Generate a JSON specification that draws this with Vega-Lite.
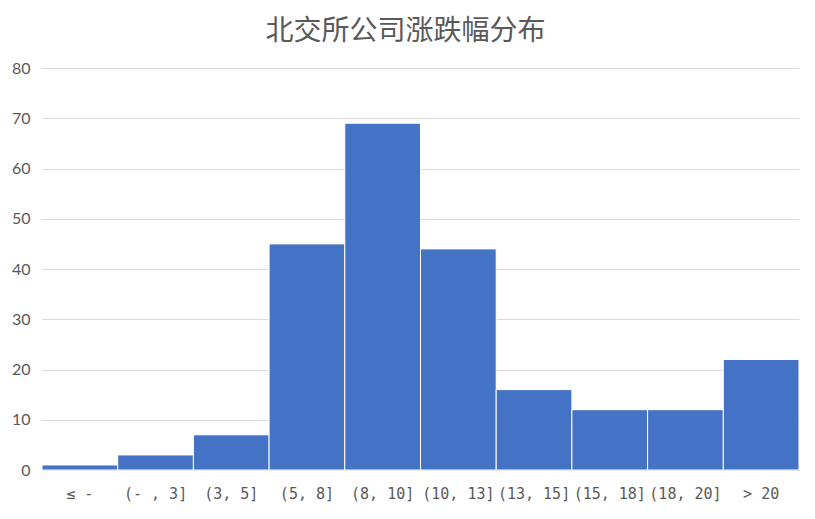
{
  "$schema": "https://vega.github.io/schema/vega-lite/v6.json",
  "width": 757,
  "height": 402,
  "autosize": {"type": "none"},
  "padding": {"left": 42, "top": 68, "right": 16, "bottom": 49},
  "background": "white",
  "title": {
    "text": "北交所公司涨跌幅分布",
    "font": "Noto Sans CJK SC",
    "fontSize": 28,
    "fontWeight": "normal",
    "color": "#595959",
    "anchor": "middle",
    "frame": "bounds",
    "offset": 14
  },
  "data": {
    "values": [
      {"bin": "≤ -", "count": 1},
      {"bin": "(- , 3]", "count": 3},
      {"bin": "(3, 5]", "count": 7},
      {"bin": "(5, 8]", "count": 45},
      {"bin": "(8, 10]", "count": 69},
      {"bin": "(10, 13]", "count": 44},
      {"bin": "(13, 15]", "count": 16},
      {"bin": "(15, 18]", "count": 12},
      {"bin": "(18, 20]", "count": 12},
      {"bin": "> 20", "count": 22}
    ]
  },
  "mark": {"type": "bar", "color": "#4472C4", "stroke": "white", "strokeWidth": 1},
  "encoding": {
    "x": {
      "field": "bin",
      "type": "nominal",
      "sort": null,
      "scale": {"paddingInner": 0, "paddingOuter": 0},
      "axis": {
        "title": null,
        "labelAngle": 0,
        "ticks": false,
        "domainColor": "#D9D9D9",
        "labelColor": "#595959",
        "labelFont": "DejaVu Sans Mono",
        "labelFontSize": 15,
        "labelPadding": 16
      }
    },
    "y": {
      "field": "count",
      "type": "quantitative",
      "scale": {"domain": [0, 80]},
      "axis": {
        "title": null,
        "values": [0, 10, 20, 30, 40, 50, 60, 70, 80],
        "ticks": false,
        "domain": false,
        "gridColor": "#D9D9D9",
        "labelColor": "#595959",
        "labelFont": "Lato",
        "labelFontSize": 16,
        "labelPadding": 12
      }
    }
  },
  "config": {"view": {"stroke": null}}
}
